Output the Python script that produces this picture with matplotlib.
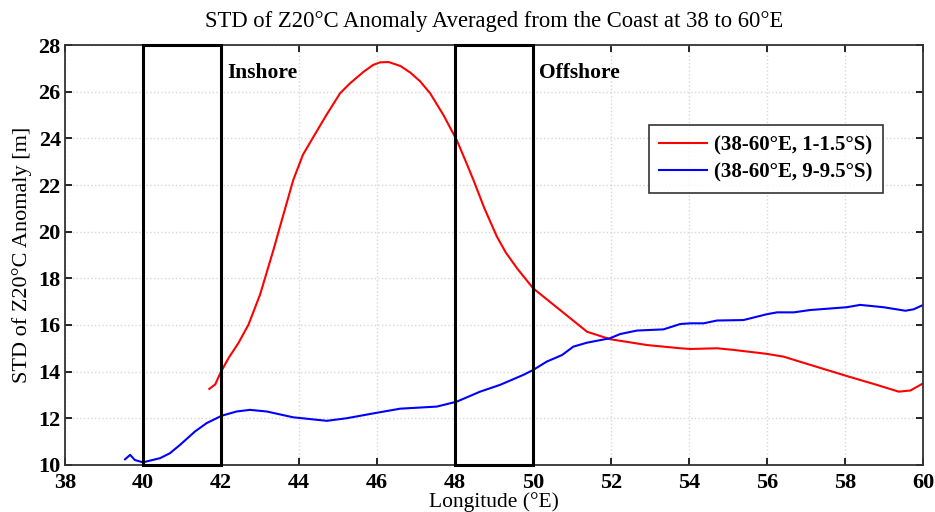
import matplotlib
matplotlib.use("Agg")
import matplotlib.pyplot as plt
from matplotlib.patches import Rectangle

# Red series: 38-60°E, 1-1.5°S
red_lon = [41.70, 41.85, 42.0, 42.2, 42.44, 42.7, 43.0, 43.34, 43.51, 43.85, 44.1, 44.37,
           44.7, 45.05, 45.3, 45.65, 45.9, 46.08, 46.3, 46.6, 46.85, 47.1, 47.36, 47.7,
           48.04, 48.25, 48.47, 48.75, 49.07, 49.3, 49.6, 50.0, 50.69,
           51.38, 51.97, 52.91, 53.77, 54.03, 54.71, 55.14, 55.99, 56.42, 57.1, 58.04,
           58.81, 59.37, 59.67, 60.0]
red_std = [13.26, 13.45, 14.0, 14.6, 15.21, 16.0, 17.3, 19.2, 20.21, 22.21, 23.3, 24.07,
           25.0, 25.93, 26.35, 26.85, 27.15, 27.26, 27.27, 27.1, 26.82, 26.45, 25.93, 25.0,
           23.93, 23.1, 22.21, 21.0, 19.79, 19.1, 18.4, 17.57, 16.64,
           15.71, 15.39, 15.14, 15.0, 14.97, 15.0, 14.93, 14.76, 14.64, 14.29, 13.81,
           13.43, 13.14, 13.19, 13.5]

# Blue series: 38-60°E, 9-9.5°S
blue_lon = [39.54, 39.67, 39.79, 40.0, 40.44, 40.69, 40.95, 41.33, 41.63, 42.02, 42.4, 42.74,
            43.17, 43.85, 44.71, 45.22, 45.91, 46.59, 47.53, 48.04, 48.64, 49.15, 49.75,
            50.0, 50.35, 50.74, 51.03, 51.38, 51.97, 52.23, 52.66, 53.34, 53.77, 54.03,
            54.37, 54.71, 55.39, 55.99, 56.25, 56.68, 57.1, 58.04, 58.38, 58.98, 59.54,
            59.75, 60.0]
blue_std = [10.24, 10.43, 10.21, 10.11, 10.29, 10.5, 10.86, 11.43, 11.79, 12.11, 12.29, 12.36,
            12.29, 12.04, 11.89, 12.0, 12.21, 12.41, 12.5, 12.71, 13.14, 13.43, 13.86,
            14.07, 14.43, 14.71, 15.07, 15.24, 15.43, 15.61, 15.76, 15.81, 16.04, 16.07,
            16.07, 16.19, 16.21, 16.46, 16.54, 16.54, 16.64, 16.76, 16.86, 16.76, 16.61,
            16.67, 16.86]

boxes = [(40, 42, "Inshore"), (48, 50, "Offshore")]
xticks = list(range(38, 61, 2))
yticks = list(range(10, 29, 2))

plt.rcParams['font.family'] = ['Liberation Serif', 'DejaVu Serif']

fig = plt.figure(figsize=(9.35, 5.12), dpi=100)
ax = fig.add_axes([0.0695, 0.092, 0.918, 0.820])

ax.plot(red_lon, red_std, color='#ff0000', lw=1.5, label='(38-60°E, 1-1.5°S)')
ax.plot(blue_lon, blue_std, color='#0000ff', lw=1.5, label='(38-60°E, 9-9.5°S)')

for x0, x1, lab in boxes:
    ax.add_patch(Rectangle((x0, 10), x1 - x0, 18, fill=False, ec='black', lw=2.2, zorder=5, clip_on=False))
    ax.text(x1 + 0.15, 26.8, lab, fontsize=15.5, fontweight='bold', va='center', ha='left')

ax.set_xlim(38, 60)
ax.set_ylim(10, 28)
ax.set_xticks(xticks)
ax.set_yticks(yticks)
ax.tick_params(direction='in', top=True, right=True, labelsize=16, length=5, width=1.2)
ax.tick_params(axis='x', pad=6)
ax.tick_params(axis='y', pad=3)
for lbl in ax.get_xticklabels() + ax.get_yticklabels():
    lbl.set_fontweight('bold')
ax.grid(True, color='#d8d8d8', linestyle=':', lw=1.0)
for s in ax.spines.values():
    s.set_linewidth(1.3)
    s.set_color('#333333')

ax.set_title('STD of Z20°C Anomaly Averaged from the Coast at 38 to 60°E', fontsize=16.3, pad=13)
ax.set_xlabel('Longitude (°E)', fontsize=15.5, labelpad=-1)
ax.set_ylabel('STD of Z20°C Anomaly [m]', fontsize=16, labelpad=5)

leg = ax.legend(loc='upper right', bbox_to_anchor=(0.953, 0.81), borderaxespad=0, fontsize=15,
                frameon=True, fancybox=False, edgecolor='black', handlelength=2.3,
                handletextpad=0.35, borderpad=0.5, labelspacing=0.35)
leg.get_frame().set_linewidth(1.2)
for t in leg.get_texts():
    t.set_fontweight('bold')

fig.savefig('out.png', dpi=100)
